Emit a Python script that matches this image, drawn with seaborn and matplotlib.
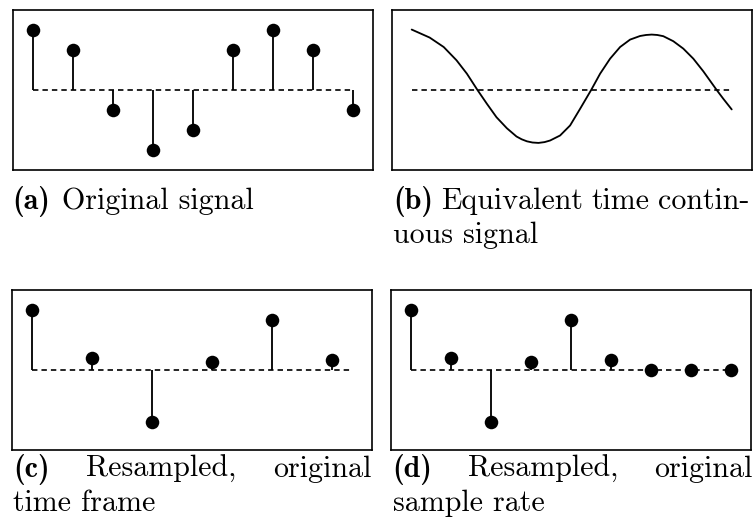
import matplotlib
matplotlib.use("Agg")
import matplotlib.pyplot as plt
import seaborn as sns

# ---- signal data -------------------------------------------------------
orig_time = [0, 1, 2, 3, 4, 5, 6, 7, 8]
orig_values = [3, 2, -1, -3, -2, 2, 3, 2, -1]

cont_time = [0.0, 0.45, 0.8, 1.12, 1.38, 1.64, 1.88, 2.12, 2.38, 2.62, 2.75, 2.88,
             3.02, 3.17, 3.32, 3.46, 3.71, 3.96, 4.21, 4.49, 4.71, 4.96, 5.21, 5.46,
             5.71, 5.86, 6.0, 6.14, 6.29, 6.54, 6.79, 7.04, 7.29, 7.62, 7.79, 8.0]
cont_values = [3.0, 2.6, 2.13, 1.47, 0.8, 0.0, -0.7, -1.37, -1.92, -2.33, -2.47, -2.57,
               -2.63, -2.65, -2.61, -2.53, -2.28, -1.78, -0.95, 0.0, 0.8, 1.55, 2.13, 2.5,
               2.68, 2.73, 2.75, 2.73, 2.67, 2.42, 2.05, 1.55, 0.92, 0.0, -0.45, -0.98]

resamp_time = [0, 1.5, 3, 4.5, 6, 7.5]
resamp_values = [3.0, 0.6, -2.6, 0.4, 2.5, 0.5]

rate_time = [0, 1, 2, 3, 4, 5, 6, 7, 8]
rate_values = [3.0, 0.6, -2.6, 0.4, 2.5, 0.5, 0, 0, 0]

time_span = [0, 8]
zero_level = [0, 0]

# ---- style -------------------------------------------------------------
sns.set_theme(style="white")
plt.rcParams["font.family"] = "cmr10"
plt.rcParams["mathtext.fontset"] = "cm"
plt.rcParams["axes.formatter.use_mathtext"] = True
plt.rcParams["lines.scale_dashes"] = False
plt.rcParams["lines.solid_capstyle"] = "round"

W, H = 755, 532
fig = plt.figure(figsize=(W / 100, H / 100), dpi=100)
renderer = fig.canvas.get_renderer()

LW = 1.2
DASH = (0, (3.9, 2.9))
FS = 21.6


def panel(left_px, top_px):
    width_px, height_px = 360, 160.5
    ax = fig.add_axes([left_px / W, 1 - (top_px + height_px) / H,
                       width_px / W, height_px / H])
    ax.set_xlim(-0.5, 8.5)
    ax.set_ylim(-4, 4)
    ax.set_xticks([])
    ax.set_yticks([])
    for s in ax.spines.values():
        s.set_visible(True)
        s.set_color("black")
        s.set_linewidth(LW)
    ax.set_facecolor("white")
    return ax


def baseline(ax):
    ax.plot(time_span, zero_level, color="black", lw=LW, linestyle=DASH,
            dash_capstyle="butt", zorder=1)


def stems(ax, t, v):
    baseline(ax)
    ax.vlines(t, 0, v, color="black", lw=LW * 1.1, zorder=2)
    sns.scatterplot(x=t, y=v, ax=ax, color="black", s=95, linewidth=0,
                    zorder=3, legend=False)


def caption(x_px, y_px, text, bold=False, **kw):
    return fig.text(x_px / W, 1 - y_px / H, text, fontsize=FS, va="baseline",
                    color="black", family="cmb10" if bold else "cmr10", **kw)


def justified(x0, x1, y_px, words):
    """Set one caption line flush left and right, spreading the spaces evenly."""
    widths = []
    for text, bold in words:
        t = caption(0, y_px, text, bold=bold)
        widths.append(t.get_window_extent(renderer).width)
        t.remove()
    gap = (x1 - x0 - sum(widths)) / (len(words) - 1)
    x = x0
    for (text, bold), w in zip(words, widths):
        caption(x, y_px, text, bold=bold)
        x += w + gap


# (a) original samples
ax_a = panel(13, 9.5)
stems(ax_a, orig_time, orig_values)

# (b) continuous signal
ax_b = panel(391.7, 9.5)
baseline(ax_b)
sns.lineplot(x=cont_time, y=cont_values, ax=ax_b, color="black", lw=LW * 1.1,
             sort=False, estimator=None, zorder=2)

# (c) resampled in the original time frame
ax_c = panel(12, 289.5)
stems(ax_c, resamp_time, resamp_values)

# (d) resampled at the original sample rate
ax_d = panel(391, 289.5)
stems(ax_d, rate_time, rate_values)

# captions
caption(12.7, 209, "(a)", bold=True)
caption(61.7, 209, "Original signal")

justified(393.3, 749.3, 209, [("(b)", True), ("Equivalent", False),
                              ("time", False), ("contin-", False)])
caption(393.3, 243.3, "uous signal")

justified(13.3, 371.7, 476.7, [("(c)", True), ("Resampled,", False),
                               ("original", False)])
caption(13.3, 510.7, "time frame")

justified(392.7, 752.7, 476.7, [("(d)", True), ("Resampled,", False),
                                ("original", False)])
caption(393.3, 510.7, "sample rate")

fig.savefig("out.png", dpi=100, facecolor="white")
